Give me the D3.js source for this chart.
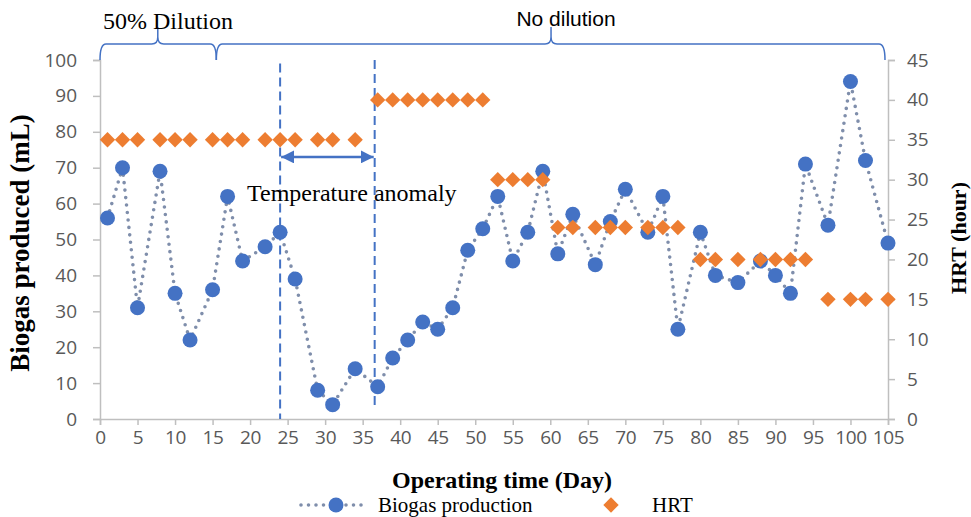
<!DOCTYPE html>
<html><head><meta charset="utf-8">
<script src="https://cdn.jsdelivr.net/npm/d3@7"></script>
<style>body{margin:0;background:#fff}svg{display:block}</style>
</head><body>
<svg id="c" width="971" height="517"></svg>
<script>
// ---- data ----
const days = [1,3,5,8,10,12,15,17,19,22,24,26,29,31,34,37,39,41,43,45,47,49,51,53,55,57,59,61,63,66,68,70,73,75,77,80,82,85,88,90,92,94,97,100,102,105];
const biogas = [56,70,31,69,35,22,36,62,44,48,52,39,8,4,14,9,17,22,27,25,31,47,53,62,44,52,69,46,57,43,55,64,52,62,25,52,40,38,44,40,35,71,54,94,72,49];
const hrt = [35,35,35,35,35,35,35,35,35,35,35,35,35,35,35,40,40,40,40,40,40,40,40,30,30,30,30,24,24,24,24,24,24,24,24,20,20,20,20,20,20,20,15,15,15,15];
const xTicks = d3.range(0,106,5);
const yLeftTicks = d3.range(0,101,10);
const yRightTicks = d3.range(0,46,5);
// annotations (in data units)
const anomalyStart = 24, anomalyEnd = 36.6;
const phases = [{label:"50% Dilution", from:0, to:15.5, mid:7.7}, {label:"No dilution", from:15.5, to:104.6, mid:60.1}];

// ---- layout ----
const L = 100, R = 888, T = 60, B = 419;
const svg = d3.select("#c");
const x = d3.scaleLinear().domain([0,105]).range([L,R]);
const yL = d3.scaleLinear().domain([0,100]).range([B,T]);
const yR = d3.scaleLinear().domain([0,45]).range([B,T]);
const axisCol = "#BFBFBF", labCol = "#595959", blue = "#4472C4", orange = "#ED7D31";
const tickFont = "'Open Sans', sans-serif";
const serif = "'Liberation Serif', 'Times New Roman', serif";

function styleAxis(g){
  g.select(".domain").attr("stroke", axisCol).attr("stroke-width", 1.5);
  g.selectAll(".tick line").attr("stroke", axisCol).attr("stroke-width", 1.5);
  g.selectAll(".tick text").attr("fill", labCol).style("font-family", tickFont).style("font-size", "19px");
}
const gx = svg.append("g").attr("transform", `translate(0,${B})`)
  .call(d3.axisBottom(x).tickValues(xTicks).tickSizeOuter(0).tickSize(6).tickPadding(6));
styleAxis(gx);
gx.selectAll(".tick text").attr("letter-spacing", "-0.3px");
const gl = svg.append("g").attr("transform", `translate(${L},0)`)
  .call(d3.axisLeft(yL).tickValues(yLeftTicks).tickSizeOuter(0).tickSize(7).tickPadding(16));
styleAxis(gl);
const gr = svg.append("g").attr("transform", `translate(${R},0)`)
  .call(d3.axisRight(yR).tickValues(yRightTicks).tickSizeOuter(0).tickSize(7).tickPadding(12));
styleAxis(gr);

// ---- anomaly dashed lines & arrow ----
svg.append("line").attr("x1", x(anomalyStart)).attr("x2", x(anomalyStart)).attr("y1", yL(99)).attr("y2", yL(0))
  .attr("stroke", blue).attr("stroke-width", 2).attr("stroke-dasharray", "9,5");
svg.append("line").attr("x1", x(anomalyEnd)).attr("x2", x(anomalyEnd)).attr("y1", yL(100)).attr("y2", yL(3.3))
  .attr("stroke", blue).attr("stroke-width", 2).attr("stroke-dasharray", "9,5");
const defs = svg.append("defs");
defs.append("marker").attr("id","ah").attr("viewBox","0 0 10 10").attr("refX",10).attr("refY",5)
  .attr("markerWidth",5).attr("markerHeight",5).attr("orient","auto-start-reverse").attr("markerUnits","strokeWidth")
  .append("path").attr("d","M0,0L10,5L0,10z").attr("fill", blue);
svg.append("line").attr("x1", x(anomalyStart)+1).attr("x2", x(anomalyEnd)-1).attr("y1", yL(73)).attr("y2", yL(73))
  .attr("stroke", blue).attr("stroke-width", 2.6).attr("marker-start","url(#ah)").attr("marker-end","url(#ah)");
svg.append("text").attr("x", 247).attr("y", 201).text("Temperature anomaly")
  .style("font-family", serif).style("font-size","24px").attr("fill","#000");

// ---- biogas line ----
const pts = days.map((d,i)=>({d, v:biogas[i], h:hrt[i]}));
svg.append("path").datum(pts)
  .attr("d", d3.line().x(p=>x(p.d)).y(p=>yL(p.v)))
  .attr("fill","none").attr("stroke","#7F8EAB").attr("stroke-width",3.6)
  .attr("stroke-linecap","round").attr("stroke-dasharray","0,7.5");
svg.append("g").selectAll("circle").data(pts).join("circle")
  .attr("cx", p=>x(p.d)).attr("cy", p=>yL(p.v)).attr("r", 7.5).attr("fill", blue);

// ---- HRT diamonds ----
const dia = d3.symbol().type(d3.symbolSquare).size(118);
svg.append("g").selectAll("path").data(pts).join("path")
  .attr("d", dia).attr("transform", p=>`translate(${x(p.d)},${yR(p.h)}) rotate(45)`).attr("fill", orange);

// ---- phase braces ----
const yb = 44, yEnd = 60, yPeak = 27;
phases.forEach(ph=>{
  const x0 = x(ph.from), x1 = x(ph.to), xm = x(ph.mid);
  const p = `M${x0},${yEnd} Q${x0},${yb} ${x0+6},${yb} L${xm-6},${yb} Q${xm},${yb} ${xm},${yb-7} L${xm},${yPeak}`+
            ` M${xm},${yb-7} Q${xm},${yb} ${xm+6},${yb} L${x1-6},${yb} Q${x1},${yb} ${x1},${yEnd}`;
  svg.append("path").attr("d", p).attr("fill","none").attr("stroke", blue).attr("stroke-width",1.5);
});
svg.append("text").attr("x", 103).attr("y", 29).text(phases[0].label)
  .style("font-family", serif).style("font-size","24px").attr("fill","#000");
svg.append("text").attr("x", 566).attr("y", 26).attr("text-anchor","middle").text(phases[1].label)
  .style("font-family", "'Liberation Sans', Arial, sans-serif").style("font-size","21px").attr("fill","#000");

// ---- axis titles ----
svg.append("text").attr("transform","translate(29,243) rotate(-90)").attr("text-anchor","middle")
  .text("Biogas produced (mL)").style("font-family", serif).style("font-weight","bold").style("font-size","27px");
svg.append("text").attr("transform","translate(966,238) rotate(-90)").attr("text-anchor","middle")
  .text("HRT (hour)").style("font-family", serif).style("font-weight","bold").style("font-size","22px");
svg.append("text").attr("x", 502).attr("y", 488).attr("text-anchor","middle")
  .text("Operating time (Day)").style("font-family", serif).style("font-weight","bold").style("font-size","24px");

// ---- legend ----
const lg = svg.append("g");
lg.append("line").attr("x1",301).attr("x2",368).attr("y1",505).attr("y2",505)
  .attr("stroke","#7F8EAB").attr("stroke-width",3.6).attr("stroke-linecap","round").attr("stroke-dasharray","0,7.5");
lg.append("circle").attr("cx",336).attr("cy",505).attr("r",7.5).attr("fill",blue);
lg.append("text").attr("x",378).attr("y",512).text("Biogas production")
  .style("font-family", serif).style("font-size","21px");
lg.append("path").attr("d", dia).attr("transform","translate(611,505) rotate(45)").attr("fill",orange);
lg.append("text").attr("x",652).attr("y",512).text("HRT")
  .style("font-family", serif).style("font-size","21px");
</script>
</body></html>
